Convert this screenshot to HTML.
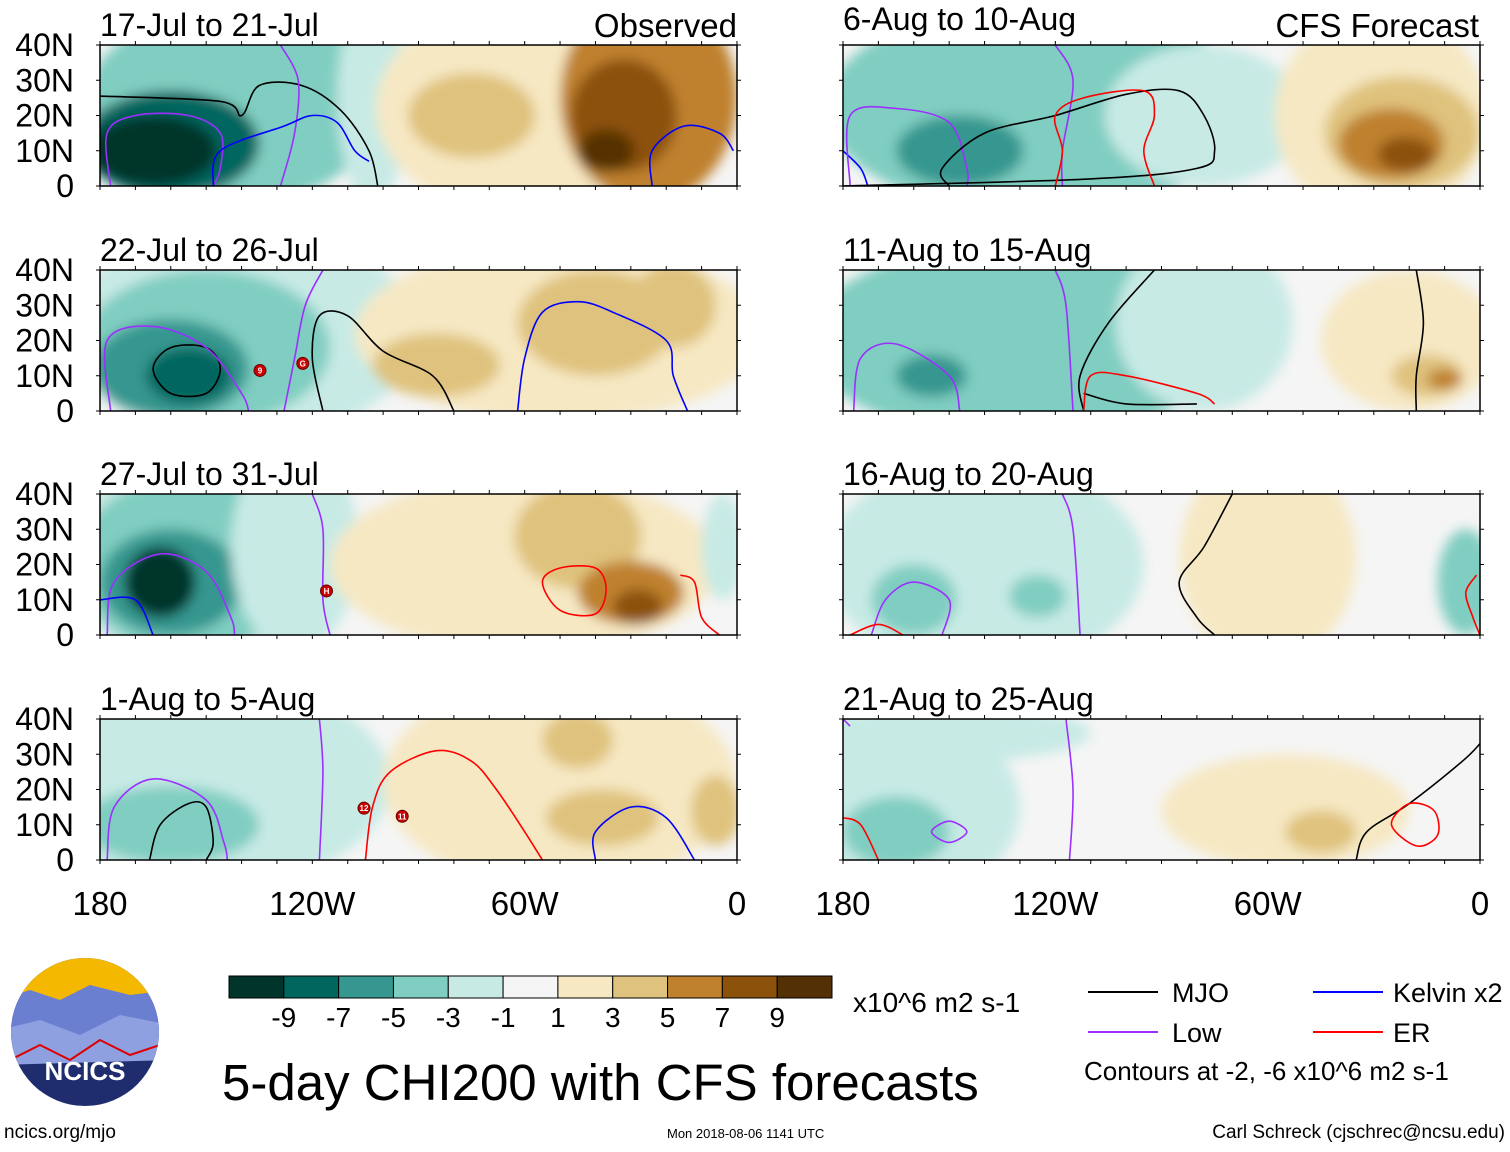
<!DOCTYPE html>
<html><head><meta charset="utf-8">
<style>
body{margin:0;background:#fff;width:1510px;height:1147px;overflow:hidden;font-family:"Liberation Sans",sans-serif;}
svg text{font-family:"Liberation Sans",sans-serif;}
</style></head><body>
<svg id="chart" width="1510" height="1147" xmlns="http://www.w3.org/2000/svg">
<defs><filter id="blur" x="-20%" y="-20%" width="140%" height="140%"><feGaussianBlur stdDeviation="6"/></filter></defs>
</svg>
<script>
// colour scale
const levels=[-9,-7,-5,-3,-1,1,3,5,7,9];
const colors=["#01352c","#01665e","#35978f","#80cdc1","#c7eae5","#f5f5f5","#f6e8c3","#dfc27d","#bf812d","#8c510a","#543005"];
const panelTitles=["17-Jul to 21-Jul","22-Jul to 26-Jul","27-Jul to 31-Jul","1-Aug to 5-Aug","6-Aug to 10-Aug","11-Aug to 15-Aug","16-Aug to 20-Aug","21-Aug to 25-Aug"];
const latTicks=["0","10N","20N","30N","40N"];
const lonTicks=["180","120W","60W","0"];
const legendItems=[["MJO","#000"],["Low","#9b30ff"],["Kelvin x2","#0000ff"],["ER","#ff0000"]];
// anomaly blobs: [lonW, lat, radiusLon, radiusLat, value]
const blobs=[
 [[140,25,40,30,-3],[150,22,35,26,-4],[160,12,25,15,-8],[165,10,18,10,-10],[103,25,10,30,-2],[62,22,40,30,2],[75,20,18,12,4],[25,25,25,30,6],[32,20,15,16,8],[37,10,8,6,10]],
 [[140,22,50,30,-2],[150,18,35,22,-4],[160,12,22,14,-6],[155,10,12,8,-8],[50,22,58,25,2],[85,13,18,9,4],[40,25,22,15,4],[18,30,12,12,4]],
 [[150,22,40,32,-2],[155,20,32,25,-4],[160,15,20,15,-6],[163,15,10,10,-9],[125,25,18,30,-2],[60,20,55,25,2],[45,28,18,15,4],[30,12,15,9,6],[28,8,7,5,8],[4,25,6,15,-2]],
 [[150,22,52,30,-2],[160,10,25,11,-4],[50,22,50,30,2],[45,34,10,8,4],[38,12,16,8,5],[6,14,7,10,4]],
 [[125,22,60,30,-3],[150,15,30,15,-4],[147,10,18,10,-6],[78,20,28,20,-2],[28,20,30,30,2],[22,15,22,16,4],[25,12,15,10,6],[21,9,8,5,8]],
 [[130,20,60,28,-3],[150,15,28,15,-4],[155,10,10,6,-6],[110,6,25,5,-4],[78,25,25,25,-2],[20,20,25,20,2],[15,10,10,6,4],[10,9,5,3,6]],
 [[140,20,45,30,-2],[160,10,12,10,-4],[125,11,8,6,-4],[60,22,25,30,2],[4,15,8,15,-3]],
 [[160,15,30,25,-2],[165,8,15,10,-4],[150,36,40,8,-2],[55,14,35,16,2],[45,8,10,6,4]]
];
// contours: [colour, closed?, points [lonW,lat]]
const K="#000",P="#9b30ff",B="#0000ff",R="#ff0000";
const contours=[
 [[K,0,[[180,25.5],[146,24],[140,20],[135,28.5],[123,28.5],[112,21.5],[104,10],[101.5,0]]],
  [P,0,[[177,0],[178,15],[170,20],[155,20],[146,15],[146,5],[148,0]]],[P,0,[[129,40],[124,30],[125,15],[129,0]]],
  [B,0,[[148,0],[146,10],[128,17],[120,20],[113,18],[108,10],[104,7]]],[B,0,[[24,0],[24,10],[15,17],[5,15],[1,10]]]],
 [[K,1,[[165,12],[160,18],[150,18],[146,12],[150,5],[160,5]]],[K,0,[[117,0],[120,15],[118,27],[110,27],[100,17],[86,10],[80,0]]],
  [P,0,[[177,0],[178,20],[165,24],[150,18],[140,5],[138,0]]],[P,0,[[117,40],[122,30],[125,15],[128,0]]],
  [B,0,[[62,0],[60,15],[55,28],[45,31],[35,28],[20,20],[18,10],[14,0]]]],
 [[P,0,[[178,0],[176,15],[163,23],[150,18],[143,5],[142,0]]],[P,0,[[120,40],[117,30],[117,10],[115,0]]],
  [B,0,[[180,10],[170,10],[165,0]]],[R,1,[[55,15],[50,19],[40,19],[37,13],[40,6],[50,7]]],[R,0,[[16,17],[12,15],[10,5],[5,0]]]],
 [[P,0,[[178,0],[176,15],[165,23],[150,17],[145,5],[144,0]]],[P,0,[[118,40],[117,25],[118,0]]],
  [K,0,[[166,0],[163,10],[155,16],[150,15],[148,5],[150,0]]],
  [R,0,[[105,0],[103,15],[98,25],[85,31],[75,28],[68,20],[60,8],[55,0]]],[B,0,[[40,0],[40,8],[30,15],[20,12],[12,0]]]],
 [[B,0,[[180,10],[175,5],[173,0]]],[P,0,[[178,0],[178,20],[165,22],[150,18],[145,5],[145,0]]],[P,0,[[120,40],[115,30],[118,10],[118,0]]],
  [K,0,[[150,0],[152,5],[140,15],[120,20],[100,26],[85,27],[78,20],[75,10],[80,5],[110,2],[180,0]]],
  [R,0,[[120,0],[118,10],[120,20],[112,25],[95,27],[92,20],[95,10],[92,0]]]],
 [[P,0,[[177,0],[175,15],[165,19],[150,10],[147,0]]],[P,0,[[120,40],[117,30],[115,0]]],
  [K,0,[[112,0],[113,10],[105,25],[92,40]]],[K,0,[[112,5],[100,2],[80,2]]],[K,0,[[18,40],[16,25],[18,10],[18,0]]],
  [R,0,[[112,0],[110,10],[100,10],[80,5],[75,2]]]],
 [[P,0,[[172,0],[168,10],[160,15],[150,10],[152,0]]],[P,0,[[118,40],[115,30],[113,0]]],
  [K,0,[[70,40],[78,25],[85,15],[80,5],[75,0]]],[R,0,[[178,0],[170,3],[163,0]]],[R,0,[[1,17],[4,12],[2,5],[0,0]]]],
 [[P,0,[[117,40],[115,20],[116,0]]],[P,1,[[155,8],[150,11],[145,8],[150,5]]],[P,0,[[180,40],[178,38]]],
  [R,0,[[180,12],[175,10],[170,0]]],[K,0,[[35,0],[32,8],[20,16],[5,28],[0,33]]],[R,1,[[25,10],[20,16],[13,14],[12,7],[18,4]]]]
];
// storms: [panel, lonW, lat, label]
const storms=[[1,134.8,11.5,"9"],[1,122.7,13.5,"G"],[2,116,12.5,"H"],[3,105.4,14.7,"12"],[3,94.6,12.4,"11"]];

const NS="http://www.w3.org/2000/svg";
const svg=document.getElementById("chart");
function el(t,a,p){const e=document.createElementNS(NS,t);for(const k in a)e.setAttribute(k,a[k]);(p||svg).appendChild(e);return e;}
function colorFor(v){let i=0;while(i<levels.length&&v>levels[i])i++;return colors[i];}
const W=637,H=141,tops=[45,270,494,719],lefts=[100,843];
function geom(p){return {x0:lefts[Math.floor(p/4)],y0:tops[p%4]};}
function X(g,lonW){return g.x0+(180-lonW)*W/180;}
function Y(g,lat){return g.y0+H-lat*H/40;}
function smooth(pts,closed){
 const n=pts.length;if(n<3)return "M"+pts.map(p=>p.join(",")).join(" L");
 const get=i=>closed?pts[(i+n)%n]:pts[Math.max(0,Math.min(n-1,i))];
 let d="M"+pts[0][0].toFixed(1)+","+pts[0][1].toFixed(1);
 const segs=closed?n:n-1;
 for(let i=0;i<segs;i++){const p0=get(i-1),p1=get(i),p2=get(i+1),p3=get(i+2);
  const c1=[p1[0]+(p2[0]-p0[0])/6,p1[1]+(p2[1]-p0[1])/6],c2=[p2[0]-(p3[0]-p1[0])/6,p2[1]-(p3[1]-p1[1])/6];
  d+=" C"+c1.map(v=>v.toFixed(1)).join(",")+" "+c2.map(v=>v.toFixed(1)).join(",")+" "+p2.map(v=>v.toFixed(1)).join(",");}
 return d+(closed?"Z":"");
}

for(let p=0;p<8;p++){
 const g=geom(p);
 const grp=el("g",{});
 
 
 const cp=el("clipPath",{id:"cp"+p},svg);el("rect",{x:g.x0,y:g.y0,width:W,height:H},cp);
 const field=el("g",{"clip-path":"url(#cp"+p+")"},grp);
 el("rect",{x:g.x0,y:g.y0,width:W,height:H,fill:colors[5]},field);
 const bl=el("g",{filter:"url(#blur)"},field);
 blobs[p].forEach(b=>{
  const e=el("ellipse",{cx:X(g,b[0]),cy:Y(g,b[1]),rx:b[2]*W/180,ry:b[3]*H/40,fill:colorFor(b[4])},bl);
  
  
 });
 contours[p].forEach(c=>{
  const pts=c[2].map(q=>[X(g,q[0]),Y(g,q[1])]);
  const e=el("path",{d:smooth(pts,c[1]),fill:"none",stroke:c[0],"stroke-width":1.6,"stroke-linejoin":"round"},field);
  
  
 });
 el("rect",{x:g.x0,y:g.y0,width:W,height:H,fill:"none",stroke:"#000","stroke-width":1.5},grp);
 for(let l=0;l<=180;l+=10){const x=X(g,l);el("line",{x1:x,y1:g.y0-4,x2:x,y2:g.y0,stroke:"#000"},grp);el("line",{x1:x,y1:g.y0+H,x2:x,y2:g.y0+H+4,stroke:"#000"},grp);}
 for(let l=0;l<=40;l+=10){const y=Y(g,l);el("line",{x1:g.x0-4,y1:y,x2:g.x0,y2:y,stroke:"#000"},grp);el("line",{x1:g.x0+W,y1:y,x2:g.x0+W+4,y2:y,stroke:"#000"},grp);}
 const t=el("text",{x:g.x0,y:g.y0-(p==4?15:9),"font-size":32},grp);t.textContent=panelTitles[p];
 
 if(p<4){latTicks.forEach((s,i)=>{const tt=el("text",{x:74,y:Y(g,i*10)+11,"font-size":32,"text-anchor":"end"},grp);tt.textContent=s;
  });}
 if(p%4==3){lonTicks.forEach((s,i)=>{const tt=el("text",{x:X(g,180-i*60),y:915,"font-size":33,"text-anchor":"middle"},grp);tt.textContent=s;
  });}
}
storms.forEach(s=>{const g=geom(s[0]);const x=X(g,s[1]),y=Y(g,s[2]);
 const gg=el("g",{});
 el("circle",{cx:x,cy:y,r:6,fill:"#c00",stroke:"#600"},gg);
 const t=el("text",{x:x,y:y+3,"font-size":8,fill:"#fff","text-anchor":"middle","font-weight":"bold"},gg);t.textContent=s[3];});
// titles
[["Observed",737],["CFS Forecast",1479]].forEach(a=>{const t=el("text",{x:a[1],y:37,"font-size":33,"text-anchor":"end"});t.textContent=a[0];
 });
// colour bar
const cb=el("g",{});
const bw=603/colors.length;
colors.forEach((c,i)=>el("rect",{x:229+i*bw,y:976,width:bw,height:22,fill:c,stroke:"#000","stroke-width":1},cb));
levels.forEach((v,i)=>{const t=el("text",{x:229+(i+1)*bw,y:1027,"font-size":28,"text-anchor":"middle"},cb);t.textContent=v;});
const u=el("text",{x:853,y:1012,"font-size":28});u.textContent="x10^6 m2 s-1";

// legend
const lp=[[1088,992],[1088,1032],[1313,992],[1313,1032]];
legendItems.forEach((it,i)=>{const gg=el("g",{});
 el("line",{x1:lp[i][0],y1:lp[i][1],x2:lp[i][0]+70,y2:lp[i][1],stroke:it[1],"stroke-width":2},gg);
 const t=el("text",{x:lp[i][0]+(i<2?84:80),y:lp[i][1]+10,"font-size":27},gg);t.textContent=it[0];});
const texts=[["Contours at -2, -6 x10^6 m2 s-1",1084,1080,26,"start","contour-note"],
 ["5-day CHI200 with CFS forecasts",222,1100,51,"start","main-title"],
 ["ncics.org/mjo",4,1138,19,"start","url-label"],
 ["Mon 2018-08-06 1141 UTC",667,1138,13,"start","timestamp"],
 ["Carl Schreck (cjschrec@ncsu.edu)",1505,1138,19,"end","author"]];
texts.forEach(a=>{const t=el("text",{x:a[1],y:a[2],"font-size":a[3],"text-anchor":a[4]});t.textContent=a[0];
 });
// logo
const lg=el("g",{});
const lcp=el("clipPath",{id:"logoclip"});el("circle",{cx:85,cy:1032,r:74},lcp);
const li=el("g",{"clip-path":"url(#logoclip)"},lg);
el("rect",{x:0,y:955,width:170,height:160,fill:"#1f2d6e"},li);
el("rect",{x:0,y:955,width:170,height:45,fill:"#f5b800"},li);
el("path",{d:"M0 1000 L30 990 L60 1000 L90 985 L130 995 L170 990 L170 1030 L0 1040Z",fill:"#6a7fd0"},li);
el("path",{d:"M0 1030 L40 1020 L80 1035 L120 1015 L170 1025 L170 1060 L0 1065Z",fill:"#8fa0e0"},li);
el("path",{d:"M10 1060 L40 1045 L70 1060 L100 1040 L130 1055 L160 1045",fill:"none",stroke:"#d00","stroke-width":2},li);
const lt=el("text",{x:85,y:1080,"font-size":26,fill:"#fff","text-anchor":"middle","font-weight":"bold"},lg);lt.textContent="NCICS";
</script>
</body></html>
